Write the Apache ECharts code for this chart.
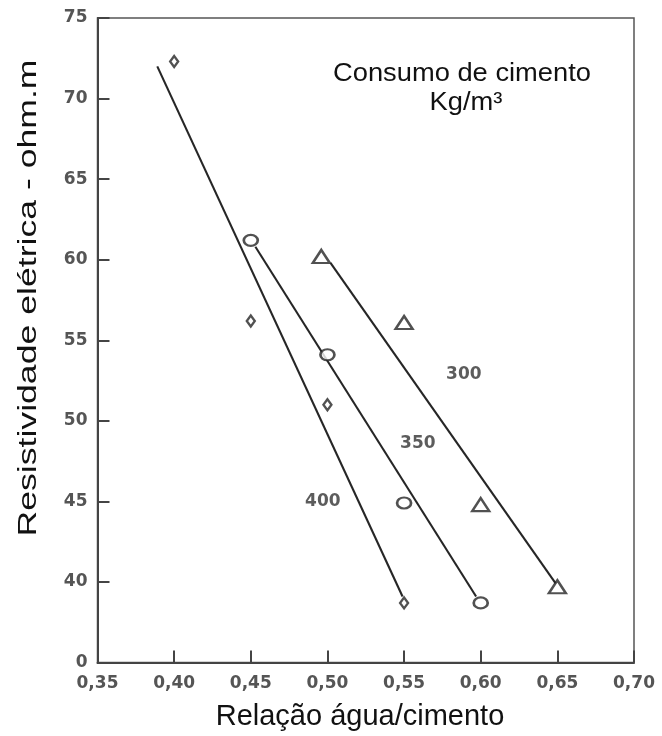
<!DOCTYPE html>
<html>
<head>
<meta charset="utf-8">
<script src="https://cdn.jsdelivr.net/npm/echarts@6/dist/echarts.min.js"></script>
<style>
html,body{margin:0;padding:0;background:#fff;}
#c{width:662px;height:736px;}
</style>
</head>
<body>
<div id="c"></div>
<script>
// ---- data ----
const cementLevels = ['400', '350', '300'];
// measured points (water/cement ratio, resistivity ohm.m)
const wc400 = [0.40, 0.45, 0.50, 0.55];
const res400 = [72.3, 56.2, 51.0, 38.7];
const wc350 = [0.45, 0.50, 0.55, 0.60];
const res350 = [61.2, 54.1, 44.9, 38.7];
const wc300 = [0.496, 0.55, 0.60, 0.65];
const res300 = [60.2, 56.1, 44.8, 39.7];
// fitted lines (end points)
const fit400X = [0.389, 0.549];
const fit400Y = [72.0, 39.1];
const fit350X = [0.453, 0.597];
const fit350Y = [60.8, 39.1];
const fit300X = [0.502, 0.649];
const fit300Y = [59.8, 39.9];
// labels of the lines (placed in data space)
const labelX = [0.497, 0.559, 0.589];
const labelY = [45.0, 48.6, 52.9];
// axis
const xMin = 0.35, xMax = 0.70, xStep = 0.05;
const yMin = 35, yMax = 75, yStep = 5;
const yBreakLabel = '0'; // the lowest tick is labelled 0 (broken axis)

const zip = (a, b) => a.map((v, i) => [v, b[i]]);

const chart = echarts.init(document.getElementById('c'));
const numFont = 'DejaVu Sans';
const ink = '#262626';

function pointSeries(x, y, symbol, size) {
  return {
    type: 'scatter',
    data: zip(x, y),
    symbol: symbol,
    symbolSize: size,
    itemStyle: { color: '#fff', borderColor: ink, borderWidth: 2.4 },
    z: 5,
    silent: true
  };
}
function lineSeries(x, y) {
  return {
    type: 'line',
    data: zip(x, y),
    showSymbol: false,
    lineStyle: { color: ink, width: 2.1 },
    z: 3,
    silent: true
  };
}

const option = {
  backgroundColor: '#fff',
  animation: false,
  grid: {
    left: 97.5, right: 28, top: 18, bottom: 73.5,
    show: true, borderColor: '#555', borderWidth: 1.5, backgroundColor: 'transparent'
  },
  xAxis: {
    type: 'value', min: xMin, max: xMax, interval: xStep,
    axisLine: { show: true, lineStyle: { color: '#444', width: 2 } },
    axisTick: { show: true, inside: true, length: 12, lineStyle: { color: '#444', width: 2 } },
    splitLine: { show: false },
    axisLabel: {
      margin: 13,
      fontFamily: numFont, fontSize: 17, fontWeight: 'bold', color: '#555',
      formatter: v => v.toFixed(2).replace('.', ',')
    }
  },
  yAxis: {
    type: 'value', min: yMin, max: yMax, interval: yStep,
    axisLine: { show: true, lineStyle: { color: '#444', width: 2 } },
    axisTick: { show: true, inside: true, length: 12, lineStyle: { color: '#444', width: 2 } },
    splitLine: { show: false },
    axisLabel: {
      margin: 10,
      fontFamily: numFont, fontSize: 17, fontWeight: 'bold', color: '#555',
      formatter: v => (v === yMin ? yBreakLabel : String(v))
    }
  },
  series: [
    lineSeries(fit400X, fit400Y),
    lineSeries(fit350X, fit350Y),
    lineSeries(fit300X, fit300Y),
    pointSeries(wc400, res400, 'diamond', [8, 11]),
    pointSeries(wc350, res350, 'circle', [14, 11]),
    pointSeries(wc300, res300, 'triangle', [17, 13]),
    {
      type: 'scatter',
      data: labelX.map((x, i) => ({ value: [x, labelY[i]], name: cementLevels[i] })),
      symbolSize: 0,
      silent: true,
      label: {
        show: true, position: 'inside', formatter: '{b}',
        fontFamily: numFont, fontSize: 17, fontWeight: 'bold', color: '#333'
      }
    }
  ],
  graphic: [
    {
      type: 'text', x: 29, y: 298, rotation: Math.PI / 2, scaleX: 1.37,
      style: {
        text: 'Resistividade elétrica - ohm.m', font: '26px "Liberation Sans"',
        fill: '#111', align: 'center', verticalAlign: 'middle',
        textAlign: 'center', textVerticalAlign: 'middle'
      }
    },
    {
      type: 'text', x: 360, y: 717,
      style: {
        text: 'Relação água/cimento', font: '29px "Liberation Sans"',
        fill: '#111', align: 'center', verticalAlign: 'middle',
        textAlign: 'center', textVerticalAlign: 'middle'
      }
    },
    {
      type: 'text', x: 462, y: 74, scaleX: 1.05,
      style: {
        text: 'Consumo de cimento', font: '26px "Liberation Sans"',
        fill: '#111', align: 'center', verticalAlign: 'middle',
        textAlign: 'center', textVerticalAlign: 'middle'
      }
    },
    {
      type: 'text', x: 466, y: 103, scaleX: 1.05,
      style: {
        text: 'Kg/m³', font: '26px "Liberation Sans"',
        fill: '#111', align: 'center', verticalAlign: 'middle',
        textAlign: 'center', textVerticalAlign: 'middle'
      }
    }
  ]
};
chart.setOption(option);
</script>
</body>
</html>
